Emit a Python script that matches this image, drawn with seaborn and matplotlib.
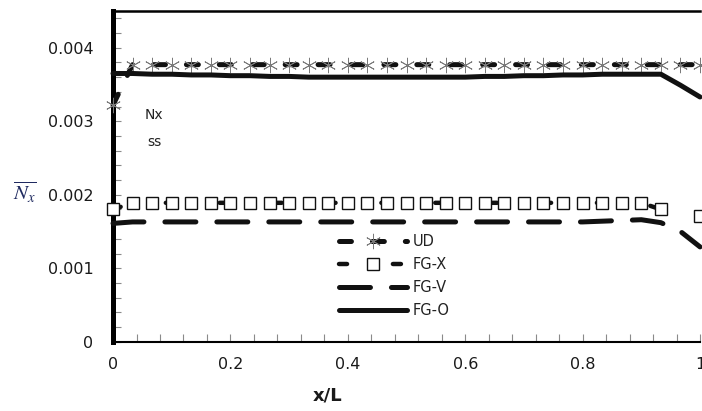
import numpy as np
import pandas as pd
import matplotlib
matplotlib.use("Agg")
import matplotlib.pyplot as plt
import seaborn as sns

# Position along the member
x_over_L = [0.0, 0.0333, 0.0667, 0.1, 0.1333, 0.1667, 0.2, 0.2333, 0.2667, 0.3,
            0.3333, 0.3667, 0.4, 0.4333, 0.4667, 0.5, 0.5333, 0.5667, 0.6, 0.6333,
            0.6667, 0.7, 0.7333, 0.7667, 0.8, 0.8333, 0.8667, 0.9, 0.9333, 0.9667, 1.0]

# Normalised in-plane force for each laminate
nx_ud = [0.00322, 0.00377, 0.00377, 0.00377, 0.00377, 0.00377, 0.00377, 0.00377,
         0.00377, 0.00377, 0.00377, 0.00377, 0.00377, 0.00377, 0.00377, 0.00377,
         0.00377, 0.00377, 0.00377, 0.00377, 0.00377, 0.00377, 0.00377, 0.00377,
         0.00377, 0.00377, 0.00377, 0.00377, 0.00377, 0.00377, 0.00377]
nx_fgx = [0.00180, 0.00189, 0.00189, 0.00189, 0.00189, 0.00189, 0.00189, 0.00189,
          0.00189, 0.00189, 0.00189, 0.00189, 0.00189, 0.00189, 0.00189, 0.00189,
          0.00189, 0.00189, 0.00189, 0.00189, 0.00189, 0.00189, 0.00189, 0.00189,
          0.00189, 0.00189, 0.00189, 0.00189, 0.00180, 0.00176, 0.00171]
nx_fgv = [0.00161, 0.00163, 0.00163, 0.00163, 0.00163, 0.00163, 0.00163, 0.00163,
          0.00163, 0.00163, 0.00163, 0.00163, 0.00163, 0.00163, 0.00163, 0.00163,
          0.00163, 0.00163, 0.00163, 0.00163, 0.00163, 0.00163, 0.00163, 0.00163,
          0.00163, 0.00164, 0.00165, 0.00166, 0.00162, 0.00150, 0.00129]
nx_fgo = [0.00365, 0.00365, 0.00364, 0.00364, 0.00363, 0.00363, 0.00362, 0.00362,
          0.00361, 0.00361, 0.00360, 0.00360, 0.00360, 0.00360, 0.00360, 0.00360,
          0.00360, 0.00360, 0.00360, 0.00361, 0.00361, 0.00362, 0.00362, 0.00363,
          0.00363, 0.00364, 0.00364, 0.00364, 0.00364, 0.00349, 0.00333]

series_names = ["UD", "FG-X", "FG-V", "FG-O"]
x_ticks = [0, 0.2, 0.4, 0.6, 0.8, 1]
x_tick_labels = ["0", "0.2", "0.4", "0.6", "0.8", "1"]
y_ticks = [0, 0.001, 0.002, 0.003, 0.004]
y_tick_labels = ["0", "0.001", "0.002", "0.003", "0.004"]

df = pd.DataFrame({"x": x_over_L, "UD": nx_ud, "FG-X": nx_fgx,
                   "FG-V": nx_fgv, "FG-O": nx_fgo})

sns.set_theme(style="ticks")
plt.rcParams["font.family"] = ["DejaVu Sans"]
plt.rcParams["lines.scale_dashes"] = False
plt.rcParams["mathtext.fontset"] = "stix"

fig = plt.figure(figsize=(7.02, 4.11), dpi=100)
ax = fig.add_axes([0.161, 0.1686, 0.8362, 0.8046])

LW = 3.6
ink = "#111111"

styles = {
    "UD": dict(color=ink, lw=LW, linestyle=(0, (8.6, 15.1)), dash_capstyle="round",
               marker=(6, 2, 0), markersize=11, markeredgewidth=0.6,
               markeredgecolor="#7a7a7a", markerfacecolor="none"),
    "FG-X": dict(color=ink, lw=3.2, linestyle=(0, (5.8, 33.0)), dash_capstyle="round",
                 marker="s", markersize=8, markeredgewidth=1.0,
                 markeredgecolor=ink, markerfacecolor="white",
                 markevery=[i for i in range(len(x_over_L)) if i != 29]),
    "FG-V": dict(color=ink, lw=LW, linestyle=(0, (22.3, 15.1)), dash_capstyle="round"),
    "FG-O": dict(color=ink, lw=LW, linestyle="-", solid_capstyle="round"),
}

for name in series_names:
    sns.lineplot(data=df, x="x", y=name, ax=ax, label=name, estimator=None,
                 errorbar=None, sort=False, clip_on=False, zorder=5,
                 **styles[name])

ax.set_xlim(0, 1)
ax.set_ylim(0, 0.0045)
ax.set_xticks(x_ticks)
ax.set_xticklabels(x_tick_labels)
ax.set_yticks(y_ticks)
ax.set_yticklabels(y_tick_labels)
ax.set_xticks(np.arange(0, 1.0001, 0.04), minor=True)
ax.set_yticks(np.arange(0, 0.00451, 0.0002), minor=True)
ax.tick_params(axis="both", which="both", direction="in", length=5.5, width=0.8,
               color="#8a8a8a", labelsize=11.5, labelcolor="#1a1a1a")
ax.tick_params(axis="x", which="major", pad=11)
ax.tick_params(axis="y", which="major", pad=14)

ax.spines["left"].set_linewidth(3.6)
ax.spines["top"].set_linewidth(1.8)
ax.spines["bottom"].set_linewidth(1.5)
ax.spines["right"].set_visible(False)
for s in ax.spines.values():
    s.set_color("black")

ax.set_xlabel("x/L", fontsize=13, fontweight="bold", color="#1a1a1a")
ax.xaxis.set_label_coords(0.366, -0.135)
ax.set_ylabel("")
fig.text(0.0356, 0.533, r"$\overline{N_x}$", fontsize=15, color="#1f2a60",
         ha="center", va="center")

ax.text(0.0545, 0.6855, "Nx", transform=ax.transAxes, fontsize=10,
        color="#222222", ha="left", va="center")
ax.text(0.058, 0.604, "ss", transform=ax.transAxes, fontsize=10,
        color="#222222", ha="left", va="center")

handles, labels = ax.get_legend_handles_labels()
ax.legend(handles, labels, loc="upper left", bbox_to_anchor=(0.373, 0.348),
          frameon=False, borderpad=0, handlelength=4.66, handletextpad=0.4,
          labelspacing=0.55, fontsize=10.5, labelcolor="#222222")

fig.savefig("out.png", dpi=100)
